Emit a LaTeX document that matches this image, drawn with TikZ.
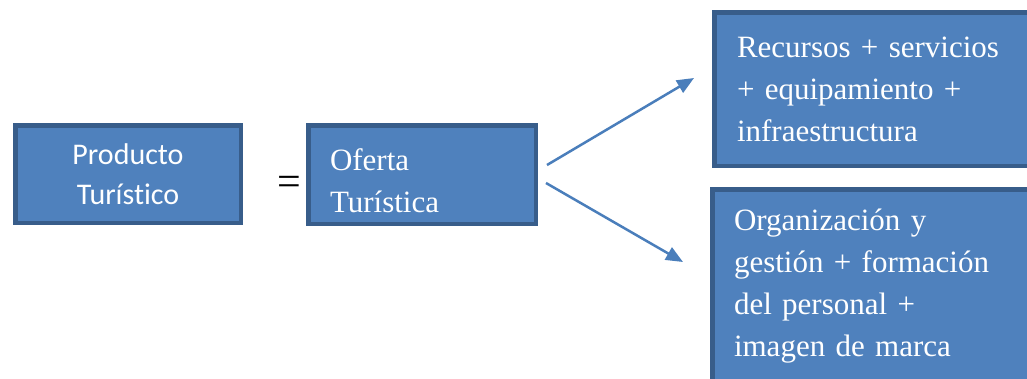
\documentclass[tikz,border=0pt]{standalone}
\usepackage{fontspec}
\setmainfont{Liberation Serif}
\newfontfamily\calibri[Ligatures=NoCommon]{Carlito}
\usepackage{tikz}
\usetikzlibrary{arrows.meta}
\usetikzlibrary{positioning}
\definecolor{BoxFill}{HTML}{4F81BD}
\definecolor{BoxLine}{HTML}{385D8A}
\definecolor{ArrowBlue}{HTML}{4A7EBB}

\begin{document}
\begin{tikzpicture}[
 x=1pt, y=-1pt,
 box/.style = {draw=BoxLine, line width=4.5pt, fill=BoxFill, rectangle, text=white,
               font=\fontsize{31}{42}\selectfont, align=left, inner ysep=0pt},
 sbox/.style = {box, align=center, font=\calibri\fontsize{30}{40}\selectfont},
 arr/.style = {draw=ArrowBlue, line width=2.5pt, -{Triangle[length=17pt,width=14pt]}},
                        ]
    \clip (0,0) rectangle (1027,378);
    \useasboundingbox (0,0) rectangle (1027,378);

    \node [sbox, minimum width=225.5pt, minimum height=97.5pt] (prod) at (128,174) {Producto\\Turístico};
    \node [font=\fontsize{42}{42}\selectfont] (eq) at (289,186) {=};
    \node [box, text width=184pt, inner xsep=21.75pt, minimum height=98.5pt] (oferta) at (422,174.5)
          {\rule{0pt}{34pt}Oferta\\Turística};

    \node [box, text width=278pt, inner xsep=22.75pt, minimum height=153.5pt] (recursos) at (876,89)
          {Recursos + servicios\\+ equipamiento +\\infraestructura};
    \node [box, text width=282pt, inner xsep=21.75pt, minimum height=194.5pt] (org) at (875,286.5)
          {Organización y\\gestión + formación\\del personal +\\imagen de marca};

    \draw [arr] ([xshift=9pt,yshift=9.5pt]oferta.east) -- ([xshift=-18pt,yshift=11pt]recursos.west);
    \draw [arr] ([xshift=8pt,yshift=-8.5pt]oferta.east) -- ([xshift=-27pt,yshift=24.5pt]org.west);
\end{tikzpicture}
\end{document}
